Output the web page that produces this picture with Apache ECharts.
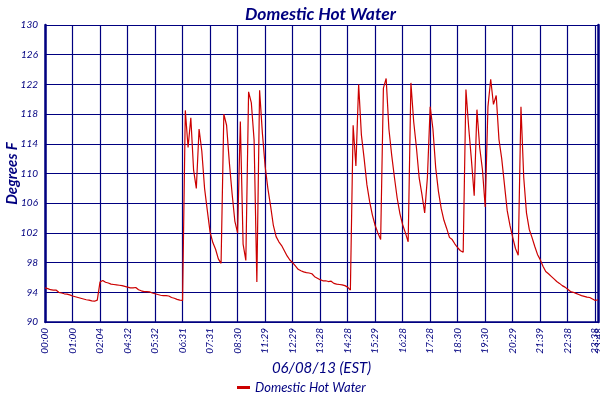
<!DOCTYPE html>
<html>
<head>
<meta charset="utf-8">
<title>Domestic Hot Water</title>
<script src="https://cdn.jsdelivr.net/npm/echarts@6/dist/echarts.min.js"></script>
<style>
    html, body { margin: 0; padding: 0; background: #fff; }
    #main { width: 600px; height: 400px; }
</style>
</head>
<body>
<div id="main"></div>
<script>
// time labels printed under every 10th reading (last one is the final reading)
var tickLabels = ['00:00', '01:00', '02:04', '04:32', '05:32', '06:31', '07:31', '08:30',
    '11:29', '12:29', '13:28', '14:28', '15:29', '16:28', '17:28', '18:30', '19:30',
    '20:29', '21:39', '22:38', '23:38', '23:48'];
var readingsPerTick = 10;

// temperature readings, degrees F
var temps = [
    94.6, 94.5, 94.35, 94.3, 94.3, 94.0, 93.9, 93.8, 93.75, 93.65,
    93.5, 93.4, 93.3, 93.2, 93.1, 93.0, 92.95, 92.85, 92.8, 92.95,
    95.4, 95.6, 95.35, 95.25, 95.1, 95.05, 95.0, 94.95, 94.9, 94.8,
    94.7, 94.6, 94.6, 94.65, 94.35, 94.2, 94.1, 94.1, 94.05, 93.9,
    93.8, 93.7, 93.6, 93.55, 93.55, 93.5, 93.3, 93.2, 93.05, 92.95,
    92.9, 118.5, 113.5, 117.5, 110.5, 108, 116, 113, 108, 105,
    102.1, 100.7, 99.8, 98.5, 97.9, 118, 116.5, 111.5, 107.3, 103.6,
    102, 117, 100.5, 98.3, 121, 119.5, 114.5, 95.4, 121.2, 115.5,
    111, 108, 105.6, 103, 101.5, 100.8, 100.3, 99.6, 98.9, 98.35,
    98.0, 97.55, 97.1, 96.9, 96.75, 96.65, 96.6, 96.5, 96.1, 95.9,
    95.7, 95.55, 95.55, 95.45, 95.5, 95.2, 95.1, 95.05, 95.0, 94.9,
    94.7, 94.3, 116.5, 111, 122, 115.2, 112, 108.5, 106.2, 104.4,
    103, 102, 101.1, 121.5, 122.8, 116, 112.5, 109.5, 106.7, 104.6,
    103.1, 102, 100.8, 122.2, 117, 113.5, 109.4, 107.2, 104.7, 109.5,
    119, 116, 110.8, 107.6, 105.3, 103.7, 102.6, 101.4, 101.1, 100.5,
    100.0, 99.6, 99.4, 121.3, 116.2, 111.8, 107, 118.6, 113.5, 110.5,
    105.5, 119, 122.7, 119.3, 120.5, 114.6, 112, 108.5, 105, 103,
    101.4, 99.9, 99.0, 119, 109.5, 104.7, 102.5, 101.4, 100.2, 99.1,
    98.4, 97.5, 96.8, 96.5, 96.15, 95.8, 95.45, 95.2, 94.9, 94.7,
    94.4, 94.1, 94.0, 93.85, 93.7, 93.55, 93.45, 93.35, 93.3, 93.1,
    92.9, 93.0
];

(function () {
    "use strict";
    var navy = '#000080';
    var font = 'Lato, "Noto Sans", sans-serif';
    var lastIdx = temps.length - 1;

    var categories = [];
    for (var i = 0; i < temps.length; i++) {
        categories.push(i % readingsPerTick === 0 ? tickLabels[i / readingsPerTick] : '');
    }

    var myChart = echarts.init(document.getElementById('main'));
    myChart.setOption({
        animation: false,
        title: {
            text: 'Domestic Hot Water',
            left: 240,
            top: 0,
            textStyle: { color: navy, fontSize: 17.5, fontWeight: 'bold', fontStyle: 'italic', fontFamily: font }
        },
        legend: {
            data: ['Domestic Hot Water'],
            left: 232,
            bottom: 1,
            icon: 'rect',
            itemWidth: 13,
            itemHeight: 3,
            itemGap: 5,
            textStyle: { color: navy, fontSize: 13, fontStyle: 'italic', fontFamily: font }
        },
        grid: { left: 45, right: 2, top: 25, bottom: 78, containLabel: false, outerBoundsMode: 'none' },
        xAxis: {
            type: 'category',
            data: categories,
            boundaryGap: false,
            name: '06/08/13 (EST)',
            nameLocation: 'middle',
            nameGap: 39,
            nameMoveOverlap: false,
            nameTextStyle: { color: navy, fontSize: 15, fontStyle: 'italic', fontFamily: font },
            axisLine: { lineStyle: { color: navy, width: 1.5 } },
            axisTick: { show: false },
            axisLabel: {
                rotate: 90,
                color: navy,
                fontSize: 10,
                fontStyle: 'italic',
                fontFamily: font,
                margin: 6,
                interval: function (index) { return index % readingsPerTick === 0; }
            },
            splitLine: {
                show: true,
                interval: function (index) { return index % readingsPerTick === 0; },
                lineStyle: { color: navy, width: 1.2 }
            }
        },
        yAxis: [{
            type: 'value',
            min: 90,
            max: 130,
            interval: 4,
            name: 'Degrees F',
            nameLocation: 'middle',
            nameRotate: 90,
            nameGap: 25,
            nameMoveOverlap: false,
            nameTextStyle: { color: navy, fontSize: 15, fontWeight: 'bold', fontStyle: 'italic', fontFamily: font },
            axisLine: { show: true, lineStyle: { color: navy, width: 2.5 } },
            axisTick: { show: false },
            axisLabel: { color: navy, fontSize: 10, fontStyle: 'italic', fontFamily: font, margin: 7 },
            splitLine: { lineStyle: { color: navy, width: 1.2 } }
        }, {
            type: 'value',
            position: 'right',
            min: 90,
            max: 130,
            interval: 4,
            axisLine: { show: true, lineStyle: { color: navy, width: 2.5 } },
            axisTick: { show: false },
            axisLabel: { show: false },
            splitLine: { show: false }
        }],
        series: [{
            name: 'Domestic Hot Water',
            type: 'line',
            data: temps,
            showSymbol: false,
            symbol: 'none',
            color: '#cc0000',
            lineStyle: { color: '#cc0000', width: 1.2 }
        }]
    });

    // the final reading's time sits right on top of the previous label,
    // echarts would drop one of the two, so draw it at the axis position
    var p = myChart.convertToPixel({ xAxisIndex: 0, yAxisIndex: 0 }, [lastIdx, 90]);
    myChart.setOption({
        graphic: [{
            type: 'text',
            x: p[0] + 1,
            y: p[1] + 6,
            rotation: Math.PI / 2,
            style: {
                text: tickLabels[tickLabels.length - 1],
                fill: navy,
                font: 'italic 10px ' + font,
                align: 'right',
                verticalAlign: 'middle'
            }
        }]
    });
})();
</script>
</body>
</html>
